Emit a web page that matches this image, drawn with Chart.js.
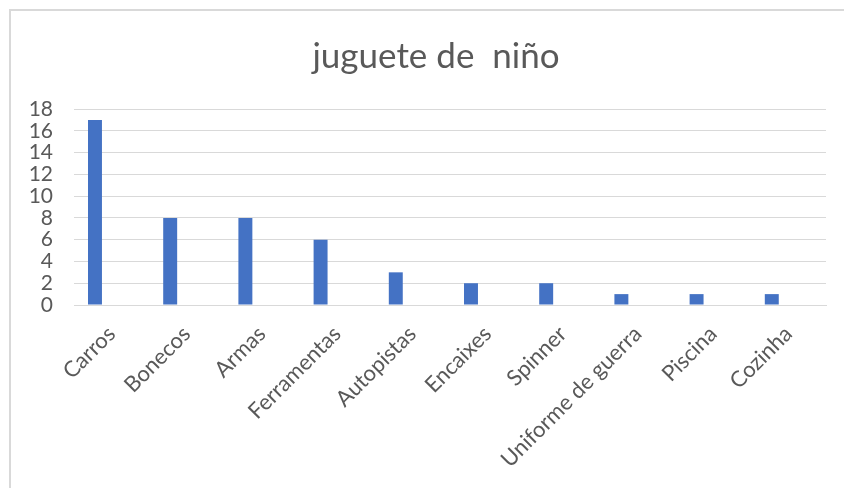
<!DOCTYPE html>
<html>
<head>
<meta charset="utf-8">
<script src="https://cdn.jsdelivr.net/npm/chart.js@4.4.1/dist/chart.umd.min.js"></script>
<style>
    html, body { margin: 0; padding: 0; background: #fff; }
    #wrap { position: relative; width: 844px; height: 488px; overflow: hidden; }
    #frame {
        position: absolute; left: 9px; top: 9px; width: 900px; height: 600px;
        border-left: 2px solid #d9d9d9; border-top: 2px solid #d9d9d9;
    }
    canvas { position: absolute; left: 0; top: 0; }
</style>
</head>
<body>
<div id="wrap">
    <div id="frame"></div>
    <canvas id="myBarChart" width="844" height="488"></canvas>
</div>
<script>
// toy counts
const categories = ['Carros', 'Bonecos', 'Armas', 'Ferramentas', 'Autopistas', 'Encaixes', 'Spinner', 'Uniforme de guerra', 'Piscina', 'Cozinha'];
const toyCounts = [17, 8, 8, 6, 3, 2, 2, 1, 1, 1];
const yTicks = [0, 2, 4, 6, 8, 10, 12, 14, 16, 18];
const chartTitle = 'juguete de  niño';

const textColor = '#595959';
const gridColor = '#d9d9d9';
const fontFamily = 'Lato, "Open Sans", sans-serif';

// title drawn by hand: the frame is wider than the page, so it sits right of the page middle
const titlePlugin = {
    id: 'sheetTitle',
    afterDraw(chart) {
        const ctx = chart.ctx;
        ctx.save();
        ctx.font = `35px ${fontFamily}`;
        ctx.fillStyle = textColor;
        ctx.textAlign = 'center';
        ctx.textBaseline = 'middle';
        ctx.fillText(chartTitle, 436, 57);
        ctx.restore();
    }
};

// the sheet had two more (empty) series next to the counts, so each bar sits left in its slot
const barChartData = {
    labels: categories,
    datasets: [
        { label: 'Serie1', data: toyCounts, backgroundColor: '#4472c4' },
        { label: 'Serie2', data: [], backgroundColor: '#ed7d31' },
        { label: 'Serie3', data: [], backgroundColor: '#a5a5a5' }
    ]
};

const barChartConfig = {
    type: 'bar',
    data: barChartData,
    plugins: [titlePlugin],
    options: {
        responsive: false,
        animation: false,
        categoryPercentage: 0.663,
        barPercentage: 0.84,
        layout: { padding: { left: 0, right: 18, top: 109, bottom: 0 } },
        plugins: {
            legend: { display: false },
            tooltip: { enabled: false },
            title: { display: false }
        },
        scales: {
            x: {
                grid: { display: false },
                border: { color: gridColor, width: 1 },
                ticks: {
                    color: textColor,
                    font: { family: fontFamily, size: 22 },
                    minRotation: 45,
                    maxRotation: 45,
                    padding: 8,
                    autoSkip: false
                },
                afterFit: scale => { scale.height = 183; }
            },
            y: {
                min: 0,
                max: 18,
                afterBuildTicks: scale => { scale.ticks = yTicks.map(v => ({ value: v })); },
                grid: { color: gridColor, drawTicks: false },
                border: { display: false },
                ticks: {
                    color: textColor,
                    font: { family: fontFamily, size: 21 },
                    padding: 21,
                    autoSkip: false
                },
                afterFit: scale => { scale.width = 74; }
            }
        }
    }
};

new Chart(
    document.getElementById('myBarChart'),
    barChartConfig
);
</script>
</body>
</html>
